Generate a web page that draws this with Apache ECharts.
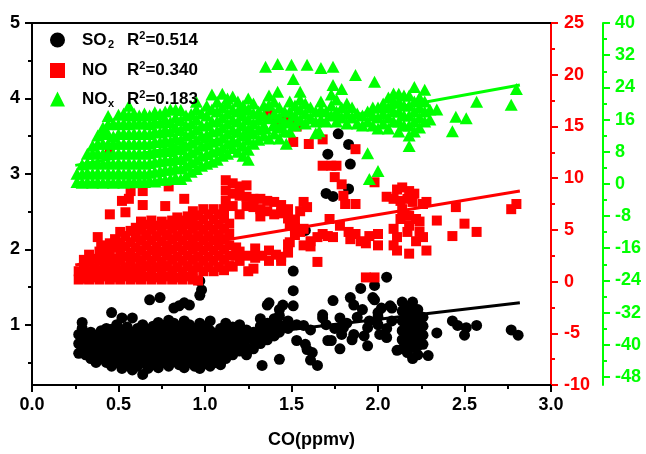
<!DOCTYPE html>
<html><head><meta charset="utf-8">
<script src="https://cdn.jsdelivr.net/npm/echarts@6/dist/echarts.min.js"></script>
<style>html,body{margin:0;padding:0;background:#fff}#c{width:646px;height:454px}</style>
</head><body><div id="c"></div>
<script>
// ---- data: [CO, value, value, ...] columns ----
const so2Cols = [
[0.27,0.62,0.75,0.87],[0.29,0.68,0.82,0.95,1.03],[0.31,0.60,0.72,0.85],[0.34,0.55,0.66,0.78,0.90],
[0.37,0.50,0.60,0.73,0.84],[0.40,0.55,0.67,0.80,0.92],[0.43,0.50,0.62,0.74,0.86,0.95],
[0.46,0.45,0.58,0.70,0.82,0.94,1.16],[0.49,0.50,0.63,0.76,0.88,1.00],[0.52,0.42,0.55,0.68,0.80,0.93,1.09],
[0.55,0.48,0.60,0.72,0.85,0.97],[0.58,0.40,0.52,0.65,0.78,0.90,1.09],[0.61,0.45,0.57,0.70,0.83,0.95],
[0.64,0.34,0.50,0.62,0.75,0.88,1.00],[0.67,0.42,0.55,0.68,0.80,0.93],[0.68,1.33],
[0.70,0.47,0.60,0.72,0.85,0.98],[0.73,0.43,0.55,0.66,0.78,0.90,1.03],[0.74,1.36],
[0.76,0.50,0.62,0.74,0.86,0.99],[0.79,0.45,0.57,0.69,0.82,0.94,1.06],[0.82,0.52,0.64,0.77,0.90,1.02,1.22],
[0.85,0.47,0.60,0.72,0.85,0.97,1.25],[0.88,0.43,0.55,0.67,0.80,0.92,1.05,1.29],[0.91,0.50,0.62,0.74,0.87,1.00,1.26],
[0.94,0.45,0.57,0.70,0.82,0.95],[0.97,0.42,0.53,0.65,0.78,0.90,1.02,1.39,1.58],[0.98,1.46],
[1.00,0.48,0.60,0.72,0.85,0.97],[1.03,0.45,0.56,0.68,0.80,0.92,1.05],[1.06,0.50,0.62,0.75,0.88],
[1.09,0.47,0.58,0.70,0.83,0.95],[1.12,0.55,0.66,0.78,0.90,1.02],[1.16,0.60,0.72,0.85,0.97],
[1.20,0.65,0.77,0.88,1.00],[1.24,0.60,0.70,0.82,0.93],[1.28,0.68,0.80,0.90],[1.32,0.75,0.87,0.98,1.08],
[1.33,0.46],[1.36,0.80,0.92,1.02,1.26],[1.37,1.29],[1.40,0.85,0.97,1.08],[1.43,0.54,0.90,1.00,1.12,1.20],
[1.45,1.26],[1.48,0.95,1.05],[1.51,1.25,1.45,1.71],[1.53,0.79,1.00],[1.57,0.99],[1.58,0.74,2.25],
[1.59,0.67],[1.61,0.53,0.93],[1.62,0.63],[1.65,0.46],[1.68,1.09,1.13],[1.70,1.00,2.74],[1.71,0.79,3.26],
[1.73,0.79],[1.74,1.32,2.70],[1.75,0.95],[1.77,3.53],[1.78,0.68,1.09],[1.79,0.87],[1.80,0.96],[1.82,1.02],
[1.83,2.80,3.39],[1.84,1.36,3.13],[1.85,0.80],[1.86,0.87,1.26],[1.88,1.10],[1.90,1.48],[1.91,1.20],
[1.92,0.85],[1.94,0.72,0.96],[1.95,1.05],[1.97,1.36],[1.98,1.33,1.52],[2.00,1.00,1.10,1.16],[2.01,0.87],
[2.02,1.22],[2.05,0.83,0.95,1.63],[2.07,1.25],[2.08,1.05,1.22],[2.11,0.66],
[2.14,0.68,0.80,0.92,1.05,1.18,1.30],[2.17,0.63,0.75,0.87,1.00,1.12,1.24],
[2.20,0.55,0.70,0.82,0.94,1.06,1.18,1.30],[2.23,0.60,0.72,0.84,0.96,1.08,1.20],[2.26,0.74,0.86,0.98,1.10],
[2.29,0.59],[2.34,0.89],[2.43,1.05],[2.46,0.99],[2.50,0.86],[2.51,0.96],[2.57,0.99],[2.77,0.93],[2.81,0.86]
];
const noCols = [
[0.27,0.2,1.0],[0.30,0.3,1.2,2.1],[0.33,0.2,1.0,1.9,2.6],[0.36,0.4,1.3,2.2],[0.38,4.3],[0.39,0.2,1.1,2.0,2.9],
[0.40,3.5],[0.42,0.5,1.4,2.3,3.1],[0.45,0.2,1.0,1.9,2.8,3.7,6.5,12.7],[0.48,0.4,1.3,2.2,3.3,4.1],
[0.51,0.2,1.1,2.0,2.9,3.8,4.8],[0.52,7.8],[0.54,0.5,1.4,2.4,3.4,4.4,6.7],[0.56,8.0],
[0.57,0.2,1.0,1.9,2.8,3.8,4.9,8.75],[0.60,0.4,1.3,2.3,3.3,4.3,5.2],[0.63,0.2,1.1,2.0,3.0,4.0,5.0,5.8],
[0.64,7.4,8.75],[0.66,0.5,1.5,2.5,3.5,4.5,5.5],[0.69,0.2,1.1,2.0,3.0,4.0,5.0,5.9],[0.72,0.4,1.4,2.4,3.4,4.4,5.4],
[0.75,0.2,1.0,1.9,2.9,3.9,4.9,5.8],[0.77,7.3],[0.78,0.5,1.5,2.5,3.5,4.5,5.5],[0.79,9.2],
[0.81,0.2,1.1,2.1,3.1,4.1,5.1,5.9],[0.84,0.4,1.4,2.4,3.4,4.4,5.4,6.2],[0.87,0.2,1.0,2.0,3.0,4.0,5.0,5.9],
[0.88,8.0],[0.90,0.5,1.5,2.5,3.5,4.5,5.5,6.3],[0.93,0.2,1.1,2.1,3.1,4.1,5.1,6.0,6.8],
[0.96,0.1,1.4,2.4,3.4,4.4,5.4,6.4],[0.99,1.0,2.0,3.0,4.0,5.0,6.0,7.0],[1.02,1.4,2.4,3.4,4.4,5.4,6.5],
[1.05,1.0,2.0,3.0,4.0,5.0,6.0,7.0],[1.08,1.4,2.5,3.5,4.5,5.5,6.5],[1.11,1.1,2.1,3.1,4.1,5.1,6.1,7.0],
[1.12,7.8,8.8,9.8],[1.14,1.5,2.5,3.5,4.6,5.6],[1.16,1.45,7.3,8.5,9.5],[1.18,2.5,3.3],
[1.20,2.0,2.9,6.5,8.3,9.2],[1.24,7.3,8.2,9.3],[1.25,1.0,2.5],[1.28,1.25,7.2,8.0],[1.29,2.3,3.2],
[1.32,6.3,7.0,8.0],[1.33,2.5],[1.36,6.8,7.8],[1.37,2.0,3.0,16.3],[1.40,6.5,7.7],[1.41,2.6,15.4],
[1.44,2.0,2.4,6.6,7.4],[1.45,15.5],[1.48,2.8,3.6,6.1,7.0],[1.49,3.8,5.4,15.5],[1.51,13.5],
[1.52,4.5,5.2,6.0],[1.53,15.0],[1.55,4.8,6.8],[1.57,3.5,5.1,7.7],[1.59,7.2],[1.60,13.3],[1.61,3.4,3.9],
[1.65,1.9,4.3],[1.68,4.6,11.2,13.75],[1.71,4.4],[1.72,6.05],[1.73,11.2],[1.74,4.3],[1.75,10.1],
[1.76,11.2],[1.78,5.4],[1.79,9.4],[1.80,8.3],[1.81,7.5],[1.83,4.8],[1.84,4.1],[1.87,4.6,7.5,12.8],
[1.90,3.9],[1.93,0.4,3.7],[1.95,4.4],[1.98,0.4,9.6],[2.00,3.5,4.6],[2.05,8.2],[2.09,3.5,5.1,8.0],
[2.11,3.0,4.3,8.9],[2.13,6.05,7.8],[2.14,7.0,9.1],[2.17,4.8,8.0],[2.18,2.7,5.4,6.35,8.75],[2.20,7.7],
[2.21,8.5],[2.22,3.9,6.05],[2.24,4.8,5.8],[2.26,4.3,7.5],[2.28,3.0,7.7],[2.34,5.9],[2.43,4.4],
[2.45,7.2],[2.50,5.6],[2.57,4.8],[2.77,7.0],[2.80,7.5]
];
const noxCols = [
[0.26,0.5,2.5],[0.29,0.3,2.5,4.8],[0.32,0.5,2.8,5.2,7.5],[0.35,0.3,2.5,5.0,7.5,9.5],
[0.38,0.5,2.8,5.2,7.6,10.0,12.0],[0.41,0.3,2.5,5.0,7.5,10.0,12.5,14.0],
[0.44,0.5,2.8,5.2,7.6,10.0,12.4,14.8,16.9],[0.47,0.3,2.5,5.0,7.5,10.0,11.8,15.0],
[0.50,0.5,2.8,5.2,7.6,10.0,12.4,14.8,17.2],[0.53,0.3,2.5,5.0,7.5,10.0,12.5,15.0,17.5],
[0.56,0.6,2.8,5.2,7.6,10.0,12.4,14.8,17.0,19.4],[0.59,0.4,2.5,5.0,7.5,10.0,12.5,15.0,17.5],
[0.62,0.6,2.8,5.2,7.6,10.0,12.4,15.0,17.0],[0.65,0.5,2.5,5.0,7.5,10.0,12.5,15.0,17.5],
[0.68,0.8,2.8,5.2,7.6,10.0,12.4,14.8,17.0],[0.71,0.6,3.0,5.5,8.0,10.5,13.0,15.5,17.8],
[0.74,1.0,3.2,5.6,8.0,10.4,12.8,15.2,17.4],[0.77,1.0,3.5,6.0,8.5,11.0,13.5,16.0,18.0],
[0.80,1.2,3.5,5.8,8.2,10.6,13.0,15.4,18.5],[0.83,1.5,4.0,6.5,9.0,11.5,14.0,16.5,18.5],
[0.86,1.2,3.8,6.2,8.6,11.0,13.4,15.8,18.4],[0.89,2.0,4.5,7.0,9.5,12.0,14.5,17.0],
[0.92,3.0,5.4,7.8,10.2,12.6,15.0,17.4],[0.95,3.7,6.0,8.5,11.0,13.5,16.0,18.5,20.4],
[0.98,4.5,7.0,9.5,12.0,14.5,17.5],[1.01,5.0,7.4,9.8,12.2,14.6,17.0,19.4],
[1.04,5.5,8.0,10.5,13.0,15.5,18.5,22.2],[1.07,6.0,8.4,10.8,13.2,15.6,18.0,20.4],
[1.10,7.0,9.0,11.5,14.0,16.5,19.0,22.4],[1.13,7.5,10.0,12.5,15.0,17.5,20.0,21.2],
[1.16,8.9,11.0,13.5,16.0,18.5,21.7],[1.19,8.0,10.5,13.0,15.5,18.0,20.5],
[1.22,7.0,9.5,12.0,14.5,17.0,18.5,19.5],[1.25,6.0,8.5,11.0,13.5,16.0,18.5,21.2],[1.27,13.1],
[1.28,10.0,12.5,15.0,17.5,20.0],[1.31,11.0,13.5,16.0,18.0],[1.34,12.0,14.5,17.0,19.5],[1.35,13.8,29.1],
[1.37,11.3,16.3,19.7,22.0],[1.40,12.5,15.0,17.5,20.4],[1.42,22.9,29.8],[1.43,11.3,14.0,16.5,19.0],
[1.46,13.0,15.5,18.0],[1.47,10.0],[1.49,13.0,15.5,18.0,20.5],[1.50,29.6],[1.51,26.1],
[1.52,14.5,17.0,19.5],[1.55,16.0,18.5,21.0,22.9],[1.58,15.0,17.5,20.0],[1.59,29.6],[1.61,16.5,19.0],
[1.64,12.6,15.5,18.0],[1.66,13.1],[1.67,16.0,18.5,20.5,28.8],[1.70,15.5,18.0],[1.73,17.0,19.5,22.2],
[1.74,24.6,29.1],[1.76,15.5,18.0,21.0],[1.79,16.5,19.0,23.6],[1.82,15.0,17.5,20.0],[1.85,16.5,19.0],
[1.87,27.1],[1.88,15.0,17.5],[1.91,14.5,17.0],[1.94,7.6,15.5,18.0],[1.95,1.2],[1.97,14.5,17.0,19.0],
[1.98,25.4],[2.00,3.2,13.8,16.5,19.0],[2.03,15.0,17.5,20.0],[2.06,13.8,16.5,19.0,21.5],
[2.09,15.5,18.0,20.5,22.5],[2.12,13.0,15.5,18.0,20.5,22.4],[2.15,14.5,17.0,19.5,22.0],
[2.18,9.4,12.0,14.5,17.0,19.5,22.0],[2.21,13.0,15.5,18.0,20.5,24.1],[2.24,14.0,16.5,19.0,21.5],
[2.27,15.5,18.0,20.5,23.4],[2.30,16.0,18.5],[2.34,18.5],[2.43,13.1],[2.45,16.7],[2.51,16.3],
[2.57,20.4],[2.77,19.7],[2.80,23.6]
];
// linear fits (end points)
const so2Fit = [[0.25,0.60],[2.82,1.29]];
const noFit = [[0.25,1.6],[2.82,8.75]];
const noxFit = [[0.25,4.6],[2.82,24.6]];
// series names / legend text
const seriesNames = ['SO2','NO','NOx'];
const r2Values = ['0.514','0.340','0.183'];
// tick labels
const xTicks = [0,0.5,1,1.5,2,2.5,3];
const so2Ticks = [1,2,3,4,5];
const so2Minor = [0.5,1.5,2.5,3.5,4.5];
const noxTicks = [-48,-40,-32,-24,-16,-8,0,8,16,24,32,40];
const noxMinor = [-44,-36,-28,-20,-12,-4,4,12,20,28,36];

function flatten(cols){const out=[];cols.forEach(c=>{for(let i=1;i<c.length;i++)out.push([c[0],c[i]]);});return out;}

const FONT = '"Liberation Sans", Arial, sans-serif';
const RED = '#ff0000', GREEN = '#00ff00';
const chart = echarts.init(document.getElementById('c'), null, {renderer:'canvas'});
const lbl = (color)=>({color:color,fontSize:18,fontWeight:'bold',fontFamily:FONT});
const legendText = {
  'SO2': '{a|SO}{b|2}{n|R}{p|2}{n|=' + r2Values[0] + '}',
  'NO': '{c|NO}{n|R}{p|2}{n|=' + r2Values[1] + '}',
  'NOx': '{a|NO}{b|x}{n|R}{p|2}{n|=' + r2Values[2] + '}'
};
const option = {
  animation:false,
  backgroundColor:'#fff',
  grid:{left:32, top:23, right:95, bottom:67, containLabel:false},
  legend:{
    z:20, zlevel:0,
    orient:'vertical', left:45, top:25, itemWidth:15, itemHeight:15, itemGap:10, selectedMode:false,
    data:[{name:'SO2',icon:'circle'},{name:'NO',icon:'rect'},{name:'NOx',icon:'triangle'}],
    formatter:function(name){return legendText[name];},
    textStyle:{padding:[0,0,0,12], fontFamily:FONT, color:'#000',
      rich:{
        a:{fontSize:17,fontWeight:'bold',fontFamily:FONT,width:26,color:'#000'},
        b:{fontSize:11,fontWeight:'bold',fontFamily:FONT,width:19,padding:[10,0,0,0],color:'#000'},
        c:{fontSize:17,fontWeight:'bold',fontFamily:FONT,width:45,color:'#000'},
        n:{fontSize:17,fontWeight:'bold',fontFamily:FONT,color:'#000'},
        p:{fontSize:11,fontWeight:'bold',fontFamily:FONT,padding:[0,0,9,0],color:'#000'}
      }}
  },
  xAxis:[{
    type:'value', min:xTicks[0], max:xTicks[xTicks.length-1], interval:0.5, position:'bottom',
    name:'CO(ppmv)', nameLocation:'middle', nameGap:46,
    nameTextStyle:{fontSize:18,fontWeight:'bold',fontFamily:FONT,color:'#000',padding:[0,0,0,40]},
    axisLine:{onZero:false,lineStyle:{color:'#000',width:2}},
    axisTick:{inside:false,length:7,lineStyle:{color:'#000',width:2}},
    minorTick:{show:true,splitNumber:2,length:4,lineStyle:{color:'#000',width:2}},
    axisLabel:Object.assign(lbl('#000'),{margin:11,formatter:v=>v.toFixed(1)}),
    splitLine:{show:false}
  },{
    type:'value', min:0, max:3, position:'top',
    axisLine:{show:true,onZero:false,lineStyle:{color:'#000',width:2}},
    axisTick:{show:false}, axisLabel:{show:false}, splitLine:{show:false}
  }],
  yAxis:[{
    type:'value', min:0.2, max:5, position:'left',
    axisLine:{show:true,onZero:false,lineStyle:{color:'#000',width:2}},
    axisTick:{show:true,length:7,customValues:so2Ticks,lineStyle:{color:'#000',width:2}},
    axisLabel:Object.assign(lbl('#000'),{margin:12,customValues:so2Ticks}),
    splitLine:{show:false}
  },{
    type:'value', min:0.2, max:5, position:'left',
    axisLine:{show:false,onZero:false},
    axisTick:{show:true,length:4,customValues:so2Minor,lineStyle:{color:'#000',width:2}},
    axisLabel:{show:false}, splitLine:{show:false}
  },{
    type:'value', min:-10, max:25, interval:5, position:'right', offset:0,
    axisLine:{show:true,onZero:false,lineStyle:{color:RED,width:2}},
    axisTick:{show:true,length:7,lineStyle:{color:RED,width:2}},
    minorTick:{show:true,splitNumber:2,length:4,lineStyle:{color:RED,width:2}},
    axisLabel:Object.assign(lbl(RED),{margin:13}),
    splitLine:{show:false}
  },{
    type:'value', min:-50, max:40, position:'right', offset:52,
    axisLine:{show:true,onZero:false,lineStyle:{color:GREEN,width:2}},
    axisTick:{show:true,length:7,customValues:noxTicks,lineStyle:{color:GREEN,width:2}},
    axisLabel:Object.assign(lbl(GREEN),{margin:12,customValues:noxTicks}),
    splitLine:{show:false}
  },{
    type:'value', min:-50, max:40, position:'right', offset:52,
    axisLine:{show:false,onZero:false},
    axisTick:{show:true,length:4,customValues:noxMinor,lineStyle:{color:GREEN,width:2}},
    axisLabel:{show:false}, splitLine:{show:false}
  }],
  series:[
    {name:seriesNames[0], type:'scatter', xAxisIndex:0, yAxisIndex:0, symbol:'circle', symbolSize:11,
     itemStyle:{color:'#000',opacity:1}, data:flatten(so2Cols), z:2},
    {name:'SO2 fit', type:'line', xAxisIndex:0, yAxisIndex:0, showSymbol:false, symbol:'none',
     lineStyle:{color:'#000',width:3}, data:so2Fit, z:3},
    {name:seriesNames[1], type:'scatter', xAxisIndex:0, yAxisIndex:2, symbol:'rect', symbolSize:10,
     itemStyle:{color:RED,opacity:1}, data:flatten(noCols), z:4},
    {name:'NO fit', type:'line', xAxisIndex:0, yAxisIndex:2, showSymbol:false, symbol:'none',
     lineStyle:{color:RED,width:3}, data:noFit, z:5},
    {name:seriesNames[2], type:'scatter', xAxisIndex:0, yAxisIndex:3, symbol:'triangle', symbolSize:[13,12],
     itemStyle:{color:GREEN,opacity:1}, data:flatten(noxCols), z:6},
    {name:'NOx fit', type:'line', xAxisIndex:0, yAxisIndex:3, showSymbol:false, symbol:'none',
     lineStyle:{color:GREEN,width:3}, data:noxFit, z:7}
  ]
};
chart.setOption(option);
</script></body></html>
